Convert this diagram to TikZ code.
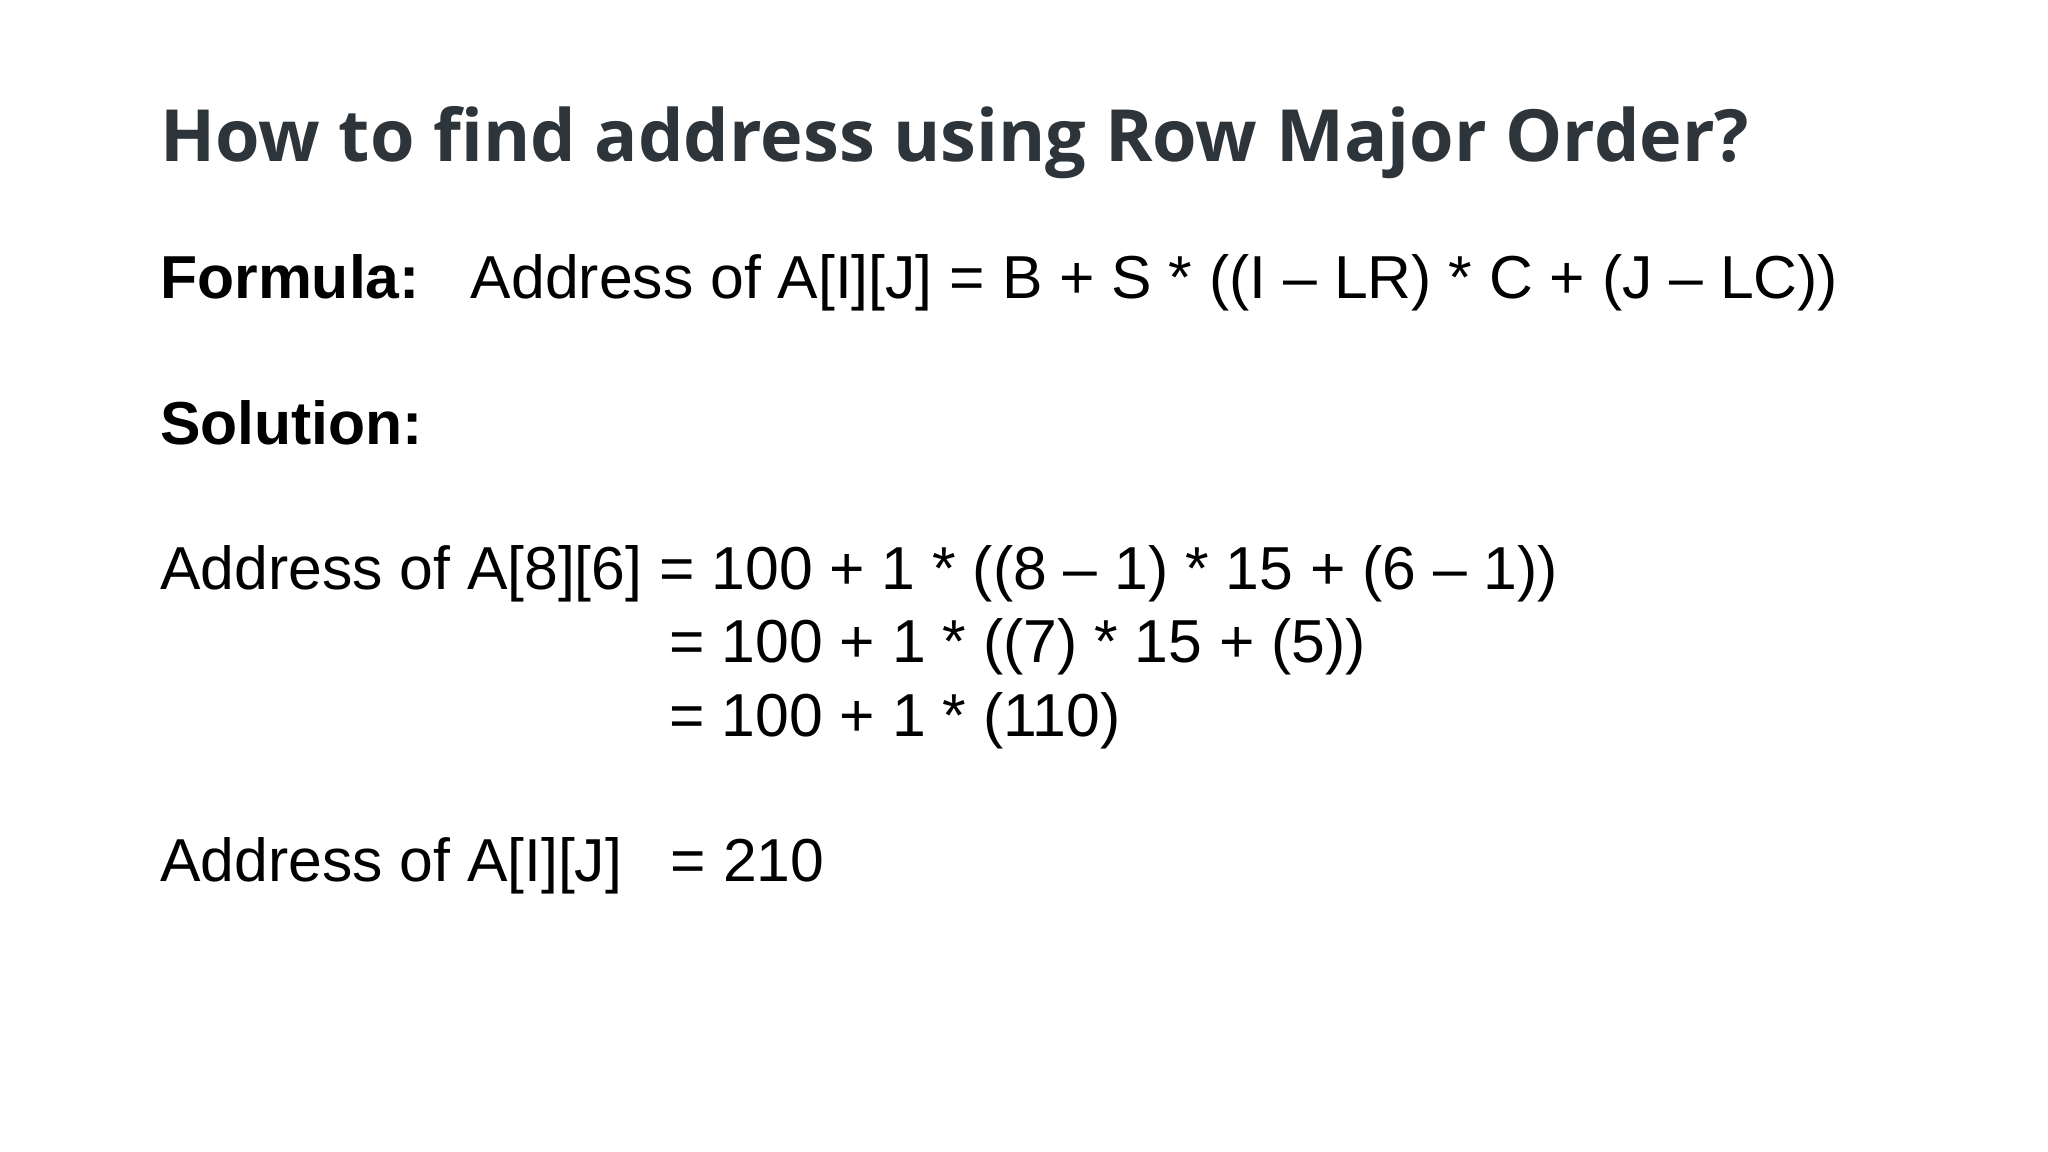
\documentclass[tikz,border=0pt]{standalone}
\usepackage{fontspec}
\setmainfont{Liberation Sans}
\newfontfamily\titlefont{Open Sans}
\definecolor{titlecol}{HTML}{2D353B}
\begin{document}
\begin{tikzpicture}[x=1pt,y=-1pt,
  txt/.style={anchor=base west,inner sep=0pt,font=\fontsize{45.5}{52}\selectfont},
  ttl/.style={anchor=base west,inner sep=0pt,text=titlecol,font=\titlefont\bfseries\fontsize{54}{62}\selectfont}]
\useasboundingbox[fill=white] (0,0) rectangle (1536,864);
\node[ttl] (title) at (120,121) {How to find address using Row Major Order?};
\node[txt] (flab) at (120,224) {\textbf{Formula:}};
\node[txt] (form) at (353,224) {Address of A[I][J] = B + S * ((I – LR) * C + (J – LC))};
\node[txt] (sol) at (120,333) {\textbf{Solution:}};
\node[txt] (l1) at (120,442) {Address of A[8][6] = 100 + 1 * ((8 – 1) * 15 + (6 – 1))};
\node[txt] (l2) at (502,497) {= 100 + 1 * ((7) * 15 + (5))};
\node[txt] (l3) at (502,552) {= 100 + 1 * (110)};
\node[txt] (l4a) at (120,661) {Address of A[I][J]};
\node[txt] (l4b) at (503,661) {= 210};
\end{tikzpicture}
\end{document}
